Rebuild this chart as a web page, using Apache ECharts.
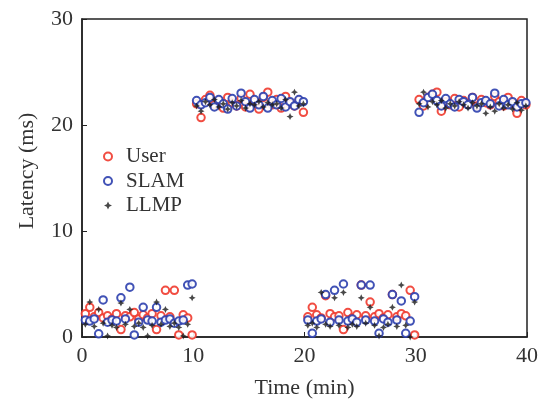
<!DOCTYPE html>
<html lang="en">
<head>
    <meta charset="UTF-8">
    <title>Latency</title>
    <style>
        * { margin: 0; padding: 0; }
        #chart { width: 547px; height: 405px; }
    </style>
</head>
<body>
    <div id="chart"></div>
    <script src="https://cdn.jsdelivr.net/npm/echarts@6/dist/echarts.min.js"></script>
    <script>
        // sample times (min), four 10-minute segments
        var times = [
            0.3, 0.7, 1.1, 1.5, 1.9, 2.3, 2.7, 3.1, 3.5, 3.9, 4.3, 4.7, 5.1, 5.5, 5.9, 6.3, 6.7, 7.1, 7.5, 7.9, 8.3, 8.7, 9.1, 9.5, 9.9,
            10.3, 10.7, 11.1, 11.5, 11.9, 12.3, 12.7, 13.1, 13.5, 13.9, 14.3, 14.7, 15.1, 15.5, 15.9, 16.3, 16.7, 17.1, 17.5, 17.9, 18.3, 18.7, 19.1, 19.5, 19.9,
            20.3, 20.7, 21.1, 21.5, 21.9, 22.3, 22.7, 23.1, 23.5, 23.9, 24.3, 24.7, 25.1, 25.5, 25.9, 26.3, 26.7, 27.1, 27.5, 27.9, 28.3, 28.7, 29.1, 29.5, 29.9,
            30.3, 30.7, 31.1, 31.5, 31.9, 32.3, 32.7, 33.1, 33.5, 33.9, 34.3, 34.7, 35.1, 35.5, 35.9, 36.3, 36.7, 37.1, 37.5, 37.9, 38.3, 38.7, 39.1, 39.5, 39.9
        ];

        var userLatency = [
            2.2, 2.8, 1.9, 2.3, 1.8, 2.0, 1.7, 2.2, 0.7, 2.0, 1.9, 2.3, 1.7, 2.1, 1.8, 2.2, 0.7, 2.0, 4.4, 1.9, 4.4, 0.2, 2.1, 1.8, 0.2,
            22.0, 20.7, 22.4, 22.8, 21.9, 22.3, 21.6, 22.6, 22.1, 21.8, 22.5, 21.7, 22.9, 22.2, 21.5, 22.6, 23.1, 21.9, 22.4, 21.6, 22.7, 22.0, 21.8, 22.3, 21.2,
            1.9, 2.8, 2.1, 1.8, 3.9, 2.2, 1.9, 2.0, 0.7, 2.3, 1.8, 2.1, 4.9, 2.0, 3.3, 1.9, 2.2, 1.8, 2.1, 4.0, 1.9, 2.2, 2.0, 4.4, 0.2,
            22.4, 21.8, 22.6, 22.9, 23.1, 21.3, 22.2, 21.9, 22.5, 21.7, 22.3, 22.0, 22.6, 21.8, 22.4, 22.1, 21.9, 22.7, 22.2, 21.8, 22.6, 22.0, 21.1, 22.3, 21.9
        ];

        var slamLatency = [
            1.6, 1.5, 1.7, 0.3, 3.5, 1.4, 1.6, 1.5, 3.7, 1.7, 4.7, 0.2, 1.4, 2.8, 1.6, 1.5, 2.8, 1.4, 1.6, 1.7, 1.3, 1.5, 1.6, 4.9, 5.0,
            22.3, 21.9, 22.1, 22.6, 21.7, 22.4, 22.0, 21.5, 22.5, 21.8, 23.0, 22.2, 21.6, 22.4, 21.9, 22.7, 21.6, 22.3, 21.9, 22.5, 21.7, 22.2, 21.8, 22.4, 22.2,
            1.6, 0.35, 1.5, 1.7, 4.0, 1.4, 4.4, 1.6, 5.0, 1.5, 1.7, 1.4, 4.9, 1.6, 4.9, 1.5, 0.35, 1.7, 1.4, 4.0, 1.6, 3.4, 0.35, 1.5, 3.8,
            21.2, 22.1, 22.6, 22.9, 22.3, 21.8, 22.5, 22.0, 21.7, 22.4, 22.2, 21.9, 22.6, 21.6, 22.1, 22.3, 22.0, 23.0, 21.8, 22.4, 21.9, 22.2, 21.7, 22.0, 22.1
        ];

        var llmpLatency = [
            1.2, 3.3, 1.0, 2.6, 1.3, 0.1, 1.1, 0.9, 3.2, 1.2, 2.6, 1.0, 1.3, 0.9, 0.1, 1.1, 3.3, 1.2, 2.6, 1.0, 1.3, 0.9, 0.1, 1.2, 3.7,
            21.8, 21.3, 22.2, 21.9, 22.4, 21.7, 22.0, 21.5, 22.1, 21.8, 22.3, 21.6, 22.0, 21.9, 22.2, 21.7, 22.1, 21.9, 22.0, 21.6, 22.4, 20.8, 23.1, 21.8, 22.0,
            1.1, 1.3, 0.9, 4.2, 1.2, 1.0, 3.7, 1.1, 4.2, 0.9, 1.2, 1.0, 3.7, 1.3, 2.8, 1.1, 0.1, 0.9, 1.2, 2.8, 1.0, 4.9, 1.1, 0.0, 3.3,
            22.0, 23.1, 21.7, 22.2, 21.9, 22.3, 21.6, 22.0, 21.8, 22.2, 21.9, 21.6, 22.1, 21.8, 22.0, 21.1, 21.7, 21.3, 22.0, 21.6, 21.9, 21.5, 22.1, 21.4, 21.8
        ];

        var xTicks = [0, 10, 20, 30, 40];
        var yTicks = [0, 10, 20, 30];

        var serif = 'Liberation Serif';
        var starPath = 'path://M5,0 L6.6,3.4 L10,5 L6.6,6.6 L5,10 L3.4,6.6 L0,5 L3.4,3.4 Z';

        function pairs(vals) {
            var res = [];
            for (var i = 0; i < times.length; i++) {
                res.push([times[i], vals[i]]);
            }
            return res;
        }

        var chart = echarts.init(document.getElementById('chart'));
        var option = {
            animation: false,
            backgroundColor: '#fff',
            grid: {
                left: 82, right: 20, top: 19, bottom: 68,
                show: true,
                borderColor: '#222',
                borderWidth: 1.5
            },
            legend: {
                orient: 'vertical',
                left: 98,
                top: 141,
                itemWidth: 8,
                itemHeight: 8,
                itemGap: 3.5,
                textStyle: { fontFamily: serif, fontSize: 21, lineHeight: 21, color: '#333', padding: [0, 0, 0, 9] },
                data: ['User', 'SLAM', 'LLMP']
            },
            xAxis: {
                type: 'value',
                min: 0, max: 40, interval: 10,
                name: 'Time (min)',
                nameLocation: 'middle',
                nameGap: 40,
                nameTextStyle: { fontFamily: serif, fontSize: 22, color: '#333' },
                axisLine: { lineStyle: { color: '#222', width: 1.5 } },
                axisTick: { inside: true, length: 5, lineStyle: { color: '#222' } },
                axisLabel: {
                    fontFamily: serif, fontSize: 22, color: '#333', margin: 8,
                    formatter: function (v) { return xTicks.indexOf(v) >= 0 ? v : ''; }
                },
                splitLine: { show: false }
            },
            yAxis: {
                type: 'value',
                min: 0, max: 30, interval: 10,
                name: 'Latency (ms)',
                nameLocation: 'middle',
                nameGap: 44,
                nameTextStyle: { fontFamily: serif, fontSize: 22, color: '#333', padding: [0, 0, 0, 14] },
                axisLine: { show: true, lineStyle: { color: '#222', width: 1.5 } },
                axisTick: { show: true, inside: true, length: 5, lineStyle: { color: '#222' } },
                axisLabel: {
                    fontFamily: serif, fontSize: 22, color: '#333', margin: 9,
                    formatter: function (v) { return yTicks.indexOf(v) >= 0 ? v : ''; }
                },
                splitLine: { show: false }
            },
            series: [
                {
                    name: 'User',
                    type: 'scatter',
                    symbol: 'emptyCircle',
                    symbolSize: 7.5,
                    itemStyle: { color: '#f03a2e', borderWidth: 1.6, opacity: 0.9 },
                    data: pairs(userLatency)
                },
                {
                    name: 'SLAM',
                    type: 'scatter',
                    symbol: 'emptyCircle',
                    symbolSize: 7.5,
                    itemStyle: { color: '#2c3fae', borderWidth: 1.6, opacity: 0.9 },
                    data: pairs(slamLatency)
                },
                {
                    name: 'LLMP',
                    type: 'scatter',
                    symbol: starPath,
                    symbolSize: 7,
                    itemStyle: { color: '#1a1a1a' },
                    data: pairs(llmpLatency)
                }
            ]
        };
        chart.setOption(option);
    </script>
</body>
</html>
